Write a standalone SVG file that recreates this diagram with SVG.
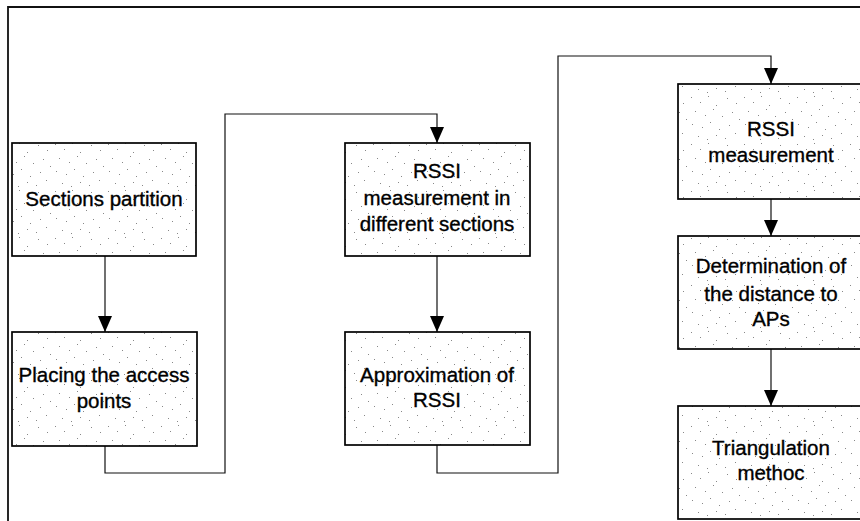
<svg xmlns="http://www.w3.org/2000/svg" width="860" height="521" viewBox="0 0 860 521">
  <style>
    .box { fill: url(#stipple); stroke: #000; stroke-width: 1.7; }
    .lbl { font-family: "Liberation Sans", Arial, sans-serif; font-size: 20.5px; fill: #000; stroke: #000; stroke-width: 0.35; text-anchor: middle; }
    .wire { fill: none; stroke: #111; stroke-width: 1.2; }
    .frame { fill: none; stroke: #111; stroke-width: 1.8; }
  </style>
  <defs>
    <!-- light speckled fill used inside every process box -->
    <pattern id="stipple" width="53" height="47" patternUnits="userSpaceOnUse">
      <rect width="53" height="47" fill="#fff"/>
      <g fill="#888">
        <rect x="2" y="3" width="1" height="1"/>
        <rect x="11" y="8" width="1" height="1"/>
        <rect x="19" y="2" width="1" height="1"/>
        <rect x="27" y="11" width="1" height="1"/>
        <rect x="38" y="4" width="1" height="1"/>
        <rect x="47" y="9" width="1" height="1"/>
        <rect x="6" y="17" width="1" height="1"/>
        <rect x="16" y="21" width="1" height="1"/>
        <rect x="24" y="15" width="1" height="1"/>
        <rect x="33" y="22" width="1" height="1"/>
        <rect x="43" y="18" width="1" height="1"/>
        <rect x="50" y="25" width="1" height="1"/>
        <rect x="3" y="30" width="1" height="1"/>
        <rect x="13" y="33" width="1" height="1"/>
        <rect x="21" y="28" width="1" height="1"/>
        <rect x="30" y="35" width="1" height="1"/>
        <rect x="40" y="31" width="1" height="1"/>
        <rect x="9" y="42" width="1" height="1"/>
        <rect x="18" y="45" width="1" height="1"/>
        <rect x="27" y="41" width="1" height="1"/>
        <rect x="36" y="44" width="1" height="1"/>
        <rect x="46" y="39" width="1" height="1"/>
      </g>
    </pattern>
    <marker id="arrow" markerWidth="16" markerHeight="14" refX="16" refY="7" orient="auto" markerUnits="userSpaceOnUse" viewBox="0 0 16 14">
      <path d="M0,0 L16,7 L0,14 Z" fill="#000"/>
    </marker>
  </defs>

  <rect width="860" height="521" fill="#fff"/>

  <!-- outer frame (top and left edges) -->
  <path class="frame" d="M8,521 V7 H860"/>

  <!-- connectors -->
  <g id="connectors">
    <path class="wire" d="M105,256 V332" marker-end="url(#arrow)"/>
    <path class="wire" d="M105,446 V473 H225 V114 H437 V143" marker-end="url(#arrow)"/>
    <path class="wire" d="M437,256 V332" marker-end="url(#arrow)"/>
    <path class="wire" d="M437,445 V473 H558 V56 H771 V84" marker-end="url(#arrow)"/>
    <path class="wire" d="M771,199 V236" marker-end="url(#arrow)"/>
    <path class="wire" d="M771,349 V406" marker-end="url(#arrow)"/>
  </g>

  <g id="sections-partition">
    <rect class="box" x="12" y="143" width="184" height="113"/>
    <text class="lbl" x="104" y="206">Sections partition</text>
  </g>

  <g id="placing-access-points">
    <rect class="box" x="12" y="332" width="185" height="114"/>
    <text class="lbl" x="104" y="382">Placing the access</text>
    <text class="lbl" x="104" y="408">points</text>
  </g>

  <g id="rssi-sections">
    <rect class="box" x="345" y="143" width="185" height="113"/>
    <text class="lbl" x="437" y="178">RSSI</text>
    <text class="lbl" x="437" y="205">measurement in</text>
    <text class="lbl" x="437" y="231">different sections</text>
  </g>

  <g id="approximation">
    <rect class="box" x="345" y="332" width="185" height="113"/>
    <text class="lbl" x="437" y="382">Approximation of</text>
    <text class="lbl" x="437" y="407">RSSI</text>
  </g>

  <g id="rssi-measurement">
    <rect class="box" x="678" y="84" width="186" height="115"/>
    <text class="lbl" x="771" y="136">RSSI</text>
    <text class="lbl" x="771" y="162">measurement</text>
  </g>

  <g id="distance">
    <rect class="box" x="678" y="236" width="186" height="113"/>
    <text class="lbl" x="771" y="273">Determination of</text>
    <text class="lbl" x="771" y="301">the distance to</text>
    <text class="lbl" x="771" y="326">APs</text>
  </g>

  <g id="triangulation">
    <rect class="box" x="678" y="406" width="186" height="113"/>
    <text class="lbl" x="771" y="455">Triangulation</text>
    <text class="lbl" x="771" y="480">methoc</text>
  </g>
</svg>
